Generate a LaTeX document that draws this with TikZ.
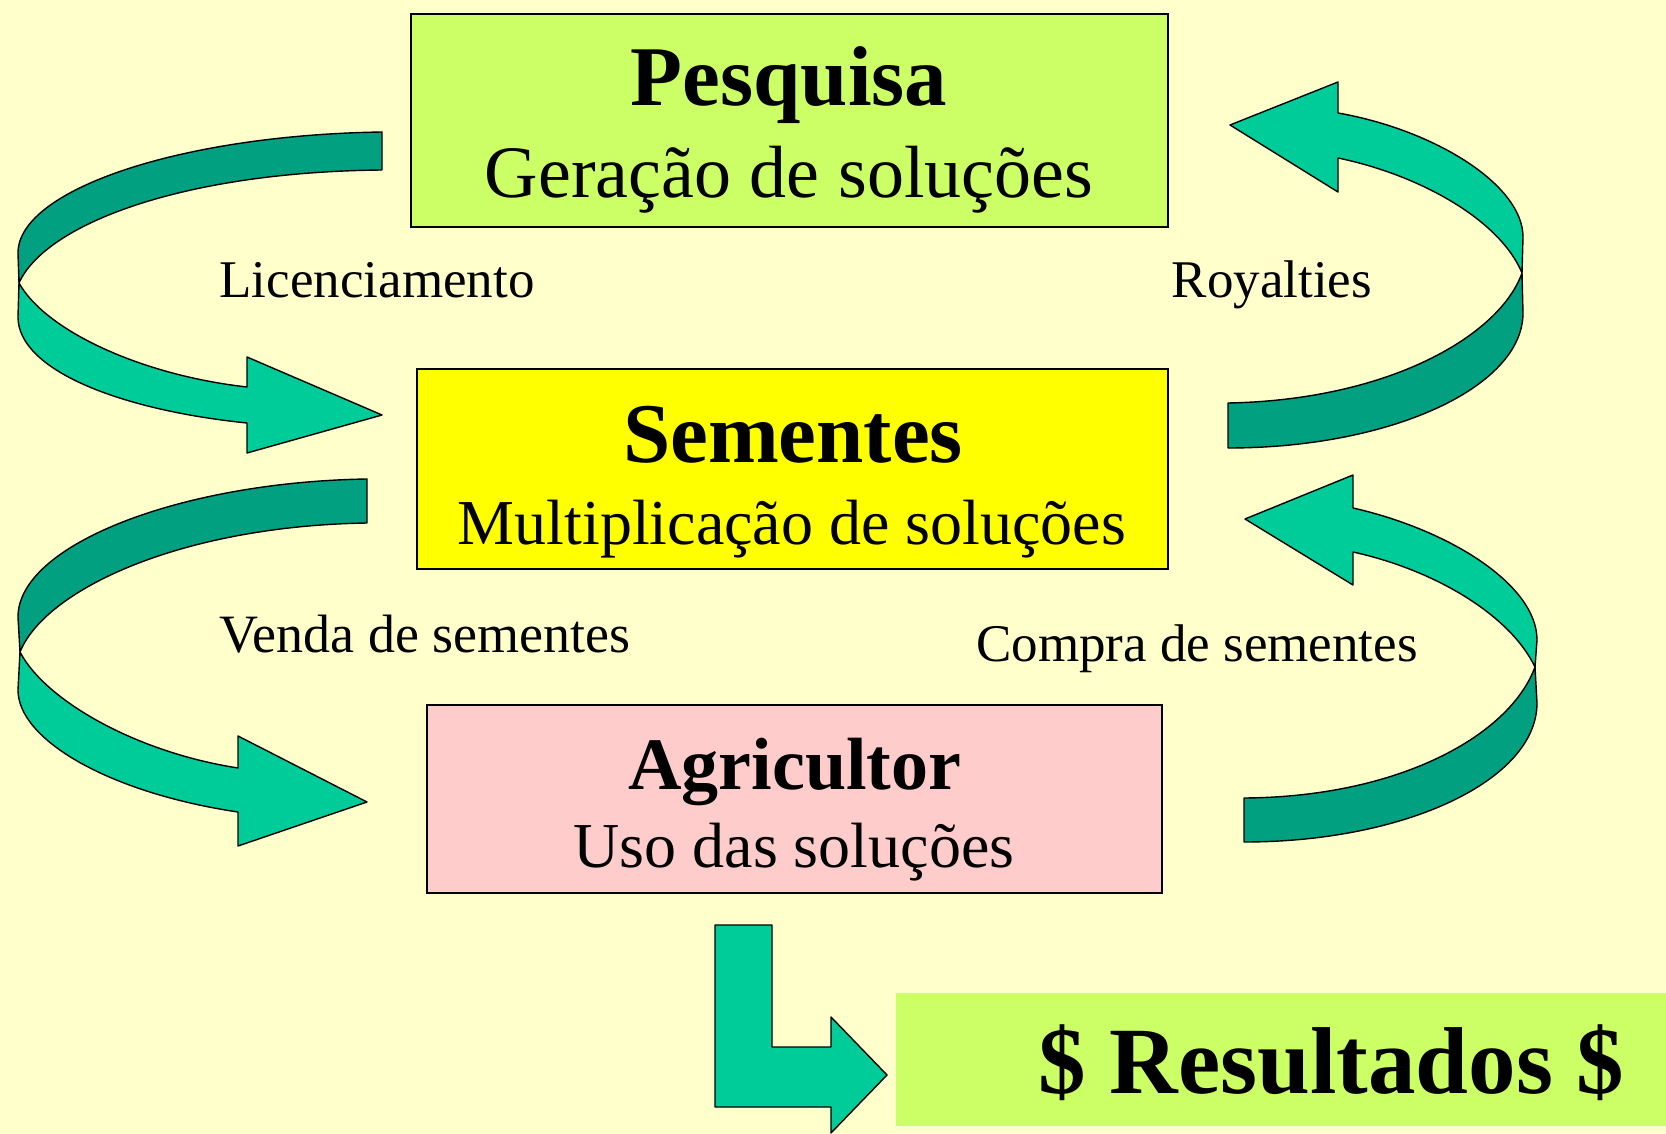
\documentclass[tikz,border=0pt]{standalone}
\usepackage{fontspec}
\setmainfont{Liberation Serif}
\definecolor{bgc}{HTML}{FFFFCC}
\definecolor{pesqc}{HTML}{CCFF66}
\definecolor{semc}{HTML}{FFFF00}
\definecolor{agrc}{HTML}{FFCCCC}
\definecolor{arrlight}{HTML}{00CC99}
\definecolor{arrdark}{HTML}{00A080}
\tikzset{
  box/.style={draw=black, line width=0.75pt, inner sep=0pt},
  ribbonlight/.style={fill=arrlight, draw=black, line width=0.7pt, line join=round},
  ribbondark/.style={fill=arrdark, draw=black, line width=0.7pt, line join=round},
  title/.style={anchor=base, inner sep=0pt, font=\bfseries},
  sub/.style={anchor=base, inner sep=0pt},
  lbl/.style={anchor=base, inner sep=0pt, font=\fontsize{26.5}{30}\selectfont},
}
\begin{document}
\begin{tikzpicture}[x=0.5pt, y=-0.5pt]
\useasboundingbox (0,0) rectangle (1666,1134);
\fill[bgc] (0,0) rectangle (1666,1134);

% boxes
\node[box, fill=pesqc, minimum width=378.5pt, minimum height=106.5pt] (pesq) at (789.5,120.5) {};
\node[box, fill=semc, minimum width=375.5pt, minimum height=100pt] (sem) at (792.5,469) {};
\node[box, fill=agrc, minimum width=367.5pt, minimum height=94pt] (agr) at (794.5,799) {};
\node[fill=pesqc, inner sep=0pt, minimum width=385pt, minimum height=66.5pt] (res) at (1281,1059.5) {};

% box texts
\node[title, font=\bfseries\fontsize{42.5}{45}\selectfont] (pesqT) at (789,106) {Pesquisa};
\node[sub, font=\fontsize{37}{40}\selectfont] (pesqS) at (789,198) {Geração de soluções};
\node[title, font=\bfseries\fontsize{42.5}{45}\selectfont] (semT) at (793,462) {Sementes};
\node[sub, font=\fontsize{32}{35}\selectfont] (semS) at (792,544) {Multiplicação de soluções};
\node[title, font=\bfseries\fontsize{37}{40}\selectfont] (agrT) at (795,789) {Agricultor};
\node[sub, font=\fontsize{32}{35}\selectfont] (agrS) at (794,867) {Uso das soluções};
\node[anchor=base west, inner sep=0pt, font=\bfseries\fontsize{47.5}{50}\selectfont] (resT) at (1038,1093) {\$ Resultados \$};

% labels
\node[lbl] (lic) at (377,298) {Licenciamento};
\node[lbl] (roy) at (1272,298) {Royalties};
\node[lbl, font=\fontsize{27}{30}\selectfont] (ven) at (425,652) {Venda de sementes};
\node[lbl] (com) at (1197,661) {Compra de sementes};

% arrow 1: Licenciamento (Pesquisa -> Sementes)
\draw[ribbondark] (382,132) .. controls (180,135) and (18,190) .. (18,253)
  -- (19,283) .. controls (45,225) and (180,172) .. (382,170) -- cycle;
\draw[ribbonlight] (19,283) -- (18,317) .. controls (18,370) and (120,410) .. (247,423)
  -- (247,453) -- (382,415) -- (247,357) -- (247,387)
  .. controls (140,375) and (45,330) .. (19,283) -- cycle;

% arrow 2: Royalties (Sementes -> Pesquisa)
\draw[ribbondark] (1228,448) .. controls (1391,448) and (1523,387) .. (1523,313)
  -- (1522,273) .. controls (1500,335) and (1390,400) .. (1228,403) -- cycle;
\draw[ribbonlight] (1522,273) -- (1523,237) .. controls (1523,185) and (1435,130) .. (1338,113)
  -- (1338,82) -- (1230,125) -- (1338,192) -- (1338,158)
  .. controls (1420,175) and (1500,220) .. (1522,273) -- cycle;

% arrow 3: Venda de sementes (Sementes -> Agricultor)
\draw[ribbondark] (367,479) .. controls (180,482) and (18,545) .. (18,617)
  -- (20,652) .. controls (45,590) and (180,526) .. (367,523) -- cycle;
\draw[ribbonlight] (20,652) -- (18,690) .. controls (18,740) and (110,793) .. (238,812)
  -- (238,846) -- (367,802) -- (238,736) -- (238,768)
  .. controls (135,752) and (45,700) .. (20,652) -- cycle;

% arrow 4: Compra de sementes (Agricultor -> Sementes)
\draw[ribbondark] (1244,842) .. controls (1406,842) and (1537,780) .. (1537,703)
  -- (1535,667) .. controls (1510,735) and (1400,797) .. (1244,798) -- cycle;
\draw[ribbonlight] (1535,667) -- (1537,640) .. controls (1537,585) and (1450,530) .. (1353,508)
  -- (1353,475) -- (1245,519) -- (1353,585) -- (1353,552)
  .. controls (1435,570) and (1510,615) .. (1535,667) -- cycle;

% L arrow: Agricultor -> Resultados
\draw[ribbonlight] (715,925) -- (772,925) -- (772,1047) -- (831,1047) -- (831,1017)
  -- (887,1075) -- (831,1133) -- (831,1107) -- (715,1107) -- cycle;
\end{tikzpicture}
\end{document}
